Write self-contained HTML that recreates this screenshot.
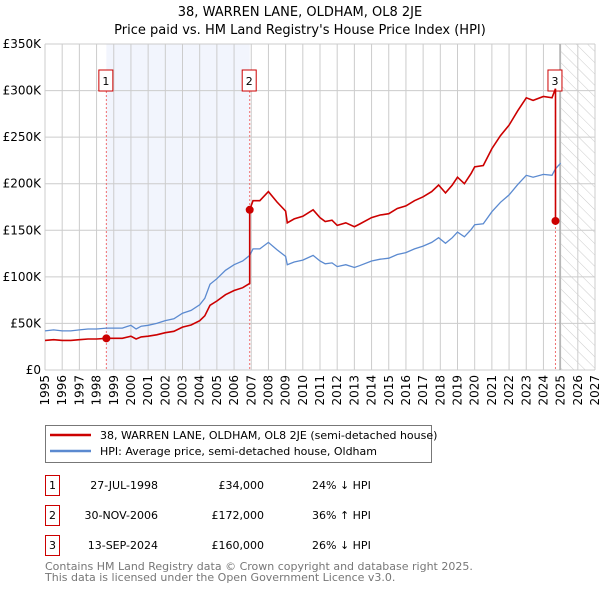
<!DOCTYPE html>
<html><head><meta charset="utf-8"><style>
body{margin:0;background:#fff;font-family:"DejaVu Sans","Liberation Sans",sans-serif;}
svg text{font-family:"DejaVu Sans","Liberation Sans",sans-serif;}
</style></head><body>
<svg id="c" width="600" height="590" viewBox="0 0 600 590" xmlns="http://www.w3.org/2000/svg">
<defs><pattern id="hatch" width="8" height="8" patternUnits="userSpaceOnUse" patternTransform="rotate(-45)"><line x1="0" y1="0" x2="0" y2="8" stroke="#ccc" stroke-width="1"/></pattern></defs>
<text x="300" y="16" text-anchor="middle" font-size="13" fill="#000">38, WARREN LANE, OLDHAM, OL8 2JE</text>
<text x="300" y="34" text-anchor="middle" font-size="13" fill="#000">Price paid vs. HM Land Registry's House Price Index (HPI)</text>
<g id="plot"></g>
<g>
<rect x="45.5" y="425.5" width="386" height="37" fill="#fff" stroke="#777"/>
<line x1="50" y1="435" x2="91" y2="435" stroke="#cc0000" stroke-width="2.5"/>
<text x="100" y="439" font-size="11">38, WARREN LANE, OLDHAM, OL8 2JE (semi-detached house)</text>
<line x1="50" y1="451" x2="91" y2="451" stroke="#5b8ad0" stroke-width="2.5"/>
<text x="100" y="455" font-size="11">HPI: Average price, semi-detached house, Oldham</text>
</g>
<g font-size="11">
<rect x="45.5" y="475.5" width="14" height="20" fill="#fff" stroke="#cc0000"/><text x="52.5" y="489" text-anchor="middle">1</text>
<text x="158" y="489" text-anchor="end">27-JUL-1998</text><text x="264" y="489" text-anchor="end">£34,000</text><text x="312" y="489">24% ↓ HPI</text>
<rect x="45.5" y="505.5" width="14" height="20" fill="#fff" stroke="#cc0000"/><text x="52.5" y="519" text-anchor="middle">2</text>
<text x="158" y="519" text-anchor="end">30-NOV-2006</text><text x="264" y="519" text-anchor="end">£172,000</text><text x="312" y="519">36% ↑ HPI</text>
<rect x="45.5" y="535.5" width="14" height="20" fill="#fff" stroke="#cc0000"/><text x="52.5" y="549" text-anchor="middle">3</text>
<text x="158" y="549" text-anchor="end">13-SEP-2024</text><text x="264" y="549" text-anchor="end">£160,000</text><text x="312" y="549">26% ↓ HPI</text>
</g>
<text x="45" y="570" font-size="11" fill="#777">Contains HM Land Registry data © Crown copyright and database right 2025.</text>
<text x="45" y="581" font-size="11" fill="#777">This data is licensed under the Open Government Licence v3.0.</text>
</svg>
<script>
const hpiDates=[1995,1995.5,1996,1996.5,1997,1997.5,1998,1998.57,1999,1999.5,2000,2000.3,2000.6,2001,2001.5,2002,2002.5,2003,2003.5,2004,2004.3,2004.6,2005,2005.5,2006,2006.5,2006.91,2007.1,2007.5,2008,2008.5,2009,2009.1,2009.5,2010,2010.6,2011,2011.3,2011.7,2012,2012.5,2013,2013.3,2014,2014.5,2015,2015.5,2016,2016.5,2017,2017.5,2017.9,2018.3,2018.7,2019,2019.4,2019.8,2020,2020.5,2021,2021.5,2022,2022.5,2023,2023.4,2024,2024.5,2024.7,2025];
const hpiValues=[42,43,42,42,43,44,44,45,45,45,48,44,47,48,50,53,55,61,64,70,77,92,98,107,113,117,123,130,130,137,129,122,113,116,118,123,117,114,115,111,113,110,112,117,119,120,124,126,130,133,137,142,136,142,148,143,151,156,157,170,180,188,199,209,207,210,209,216,222];
const saleDates=[1998.57,2006.91,2024.70];
const salePrices=[34000,172000,160000];
const yTicks=[0,50000,100000,150000,200000,250000,300000,350000];
const yTickLabels=["£0","£50K","£100K","£150K","£200K","£250K","£300K","£350K"];
const years=[1995,1996,1997,1998,1999,2000,2001,2002,2003,2004,2005,2006,2007,2008,2009,2010,2011,2012,2013,2014,2015,2016,2017,2018,2019,2020,2021,2022,2023,2024,2025,2026,2027];

const X0=45,X1=595,Y0=370,Y1=44;
const x=t=>X0+(t-1995)/(2027-1995)*(X1-X0);
const y=v=>Y0-v/350000*(Y0-Y1);
const NS="http://www.w3.org/2000/svg";
const g=document.getElementById('plot');
function mk(tag,attrs,parent){const e=document.createElementNS(NS,tag);for(const k in attrs)e.setAttribute(k,attrs[k]);(parent||g).appendChild(e);return e;}
function hpiAt(t){for(let i=1;i<hpiDates.length;i++){if(t<=hpiDates[i]){const f=(t-hpiDates[i-1])/(hpiDates[i]-hpiDates[i-1]);return (hpiValues[i-1]+f*(hpiValues[i]-hpiValues[i-1]))*1000;}}return hpiValues[hpiValues.length-1]*1000;}

let e=mk('rect',{x:x(saleDates[0]),y:Y1,width:x(saleDates[1])-x(saleDates[0]),height:Y0-Y1,fill:'#f2f5fd'});


e=mk('rect',{x:x(2024.96),y:Y1,width:X1-x(2024.96),height:Y0-Y1,fill:'url(#hatch)'});


years.forEach(yr=>{const l=mk('line',{x1:x(yr),x2:x(yr),y1:Y1,y2:Y0,stroke:'#ccc','stroke-width':1});


const t=mk('text',{x:0,y:0,transform:`translate(${x(yr)+4},${Y0+5}) rotate(-90)`,'text-anchor':'end','font-size':12});t.textContent=yr;

});
yTicks.forEach((v,i)=>{const l=mk('line',{x1:X0,x2:X1,y1:y(v),y2:y(v),stroke:'#ccc','stroke-width':1});


const t=mk('text',{x:X0-4,y:y(v)+4,'text-anchor':'end','font-size':12});t.textContent=yTickLabels[i];

});
e=mk('line',{x1:x(2024.96),x2:x(2024.96),y1:Y1,y2:Y0,stroke:'#999','stroke-width':1});



saleDates.forEach((d,i)=>{const l=mk('line',{x1:x(d),x2:x(d),y1:91,y2:Y0,stroke:'#f07070','stroke-dasharray':'2,2','stroke-width':1});


const r=mk('rect',{x:x(d)-7.5,y:70,width:14,height:21,fill:'#fff',stroke:'#cc0000'});


const t=mk('text',{x:x(d)-0.5,y:85,'text-anchor':'middle','font-size':11});t.textContent=(i+1);

});

let p=hpiDates.map((d,i)=>(i?'L':'M')+x(d).toFixed(1)+','+y(hpiValues[i]*1000).toFixed(1)).join('');
e=mk('path',{d:p,fill:'none',stroke:'#5b8ad0','stroke-width':1.3});



let pts=[];
hpiDates.forEach((d,i)=>{let k=-1;for(let j=0;j<saleDates.length;j++)if(d>=saleDates[j]-1e-6)k=j;
 if(k===-1)k=0;
 pts.push([d,hpiValues[i]*1000*salePrices[k]/hpiAt(saleDates[k])]);});
const all=[];
hpiDates.forEach((d,i)=>{
 for(let j=1;j<saleDates.length;j++){if(i>0&&hpiDates[i-1]<saleDates[j]&&d>=saleDates[j]){const prev=hpiAt(saleDates[j])*salePrices[j-1]/hpiAt(saleDates[j-1]);all.push([saleDates[j],prev]);all.push([saleDates[j],salePrices[j]]);}}
 if(d<=saleDates[2]+1e-6)all.push(pts[i]);
});
const path=all.map((q,i)=>(i?'L':'M')+x(q[0]).toFixed(1)+','+y(q[1]).toFixed(1)).join('');
e=mk('path',{d:path,fill:'none',stroke:'#cc0000','stroke-width':1.6});


saleDates.forEach((d,i)=>{const c=mk('circle',{cx:x(d),cy:y(salePrices[i]),r:4,fill:'#cc0000'});

});
</script>
</body></html>
